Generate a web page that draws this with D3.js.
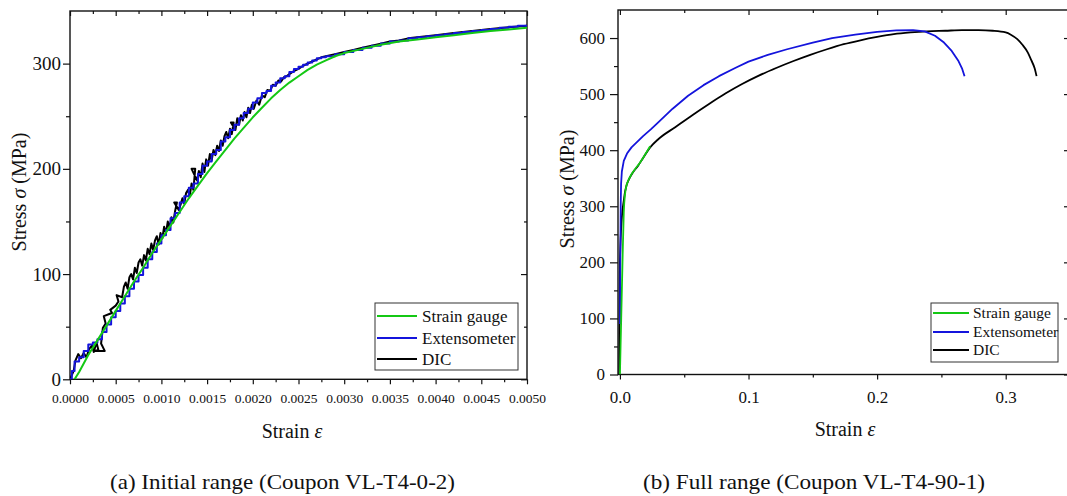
<!DOCTYPE html>
<html>
<head>
<meta charset="utf-8">
<script src="https://cdn.jsdelivr.net/npm/d3@7"></script>
<style>
  html, body { margin: 0; padding: 0; background: #fff; }
  svg text { font-family: "Liberation Serif", "Times New Roman", Times, serif; fill: #111; }
</style>
</head>
<body>
<div id="chart"></div>
<script>
// ---- data: panel (a), initial range ----
const gaugeA = [
  [0.00005, 0], [0.0001, 7], [0.0002, 23], [0.0003, 37], [0.0004, 51], [0.0005, 65],
  [0.0006, 79], [0.0007, 93], [0.0008, 106], [0.0009, 120], [0.0010, 133], [0.0011, 146],
  [0.0012, 159], [0.0013, 172], [0.0014, 184], [0.0015, 196], [0.0016, 207], [0.0017, 218],
  [0.0018, 229], [0.0019, 239], [0.0020, 249], [0.0021, 258], [0.0022, 267], [0.0023, 275],
  [0.0024, 282], [0.0025, 288], [0.0026, 294], [0.0027, 299], [0.0028, 303], [0.0029, 307],
  [0.0030, 310], [0.0032, 314], [0.0034, 318], [0.0036, 321], [0.0038, 323], [0.0040, 325],
  [0.0042, 327], [0.0044, 329], [0.0046, 331], [0.0048, 332.5], [0.0050, 334]
];
const extA = [
  [0.00000, 0], [0.00002, 8], [0.00005, 17], [0.00010, 21], [0.00015, 27], [0.00020, 33],
  [0.00025, 35], [0.00030, 38], [0.00035, 45], [0.00040, 52], [0.00045, 59], [0.00050, 65],
  [0.00055, 72], [0.00060, 79], [0.00065, 86], [0.00070, 93], [0.00075, 99], [0.00080, 106],
  [0.00085, 114], [0.00090, 121], [0.00095, 129], [0.00100, 137], [0.00105, 142], [0.00110, 153],
  [0.00115, 158], [0.00120, 168], [0.00125, 174], [0.00130, 182], [0.00135, 186], [0.00140, 195],
  [0.00145, 203], [0.00150, 207], [0.00155, 214], [0.00160, 218], [0.00165, 226], [0.00170, 230],
  [0.00175, 237], [0.00180, 242], [0.00185, 248], [0.00190, 253], [0.00195, 257], [0.00200, 263],
  [0.00205, 267], [0.00210, 272], [0.00215, 274], [0.00220, 279], [0.00225, 282], [0.00230, 286],
  [0.00235, 288], [0.00240, 292], [0.00245, 295], [0.00250, 297], [0.00255, 299], [0.00260, 301],
  [0.00265, 303], [0.00270, 305], [0.00275, 306], [0.00280, 307], [0.00290, 309], [0.00300, 311],
  [0.00310, 313], [0.00320, 315], [0.00330, 317], [0.00340, 319], [0.00350, 321], [0.00360, 322],
  [0.00370, 324], [0.00380, 325], [0.00390, 326], [0.00400, 327], [0.00410, 328], [0.00420, 329],
  [0.00430, 330], [0.00440, 331], [0.00450, 332], [0.00460, 333], [0.00470, 334], [0.00480, 335],
  [0.00490, 336], [0.00500, 337]
];
const dicA = [
  [0.00000, 0], [0.00004, 8], [0.00006, 18], [0.00009, 24], [0.00012, 20], [0.00015, 25],
  [0.00018, 21], [0.00021, 29], [0.00024, 32], [0.00026, 26], [0.00029, 35], [0.00031, 28],
  [0.00027, 27], [0.00038, 27], [0.00034, 34], [0.00036, 49], [0.00039, 53], [0.00037, 60],
  [0.00043, 62], [0.00046, 63], [0.00044, 66], [0.00050, 70], [0.00053, 74], [0.00051, 80],
  [0.00057, 78], [0.00059, 88], [0.00061, 92], [0.00063, 86], [0.00065, 97], [0.00067, 100],
  [0.00069, 95], [0.00071, 106], [0.00073, 101], [0.00075, 111], [0.00077, 114], [0.00079, 108],
  [0.00081, 118], [0.00083, 113], [0.00085, 124], [0.00087, 119], [0.00089, 129], [0.00091, 123],
  [0.00093, 132], [0.00095, 136], [0.00097, 128], [0.00099, 139], [0.00101, 134], [0.00103, 145],
  [0.00105, 139], [0.00107, 150], [0.00109, 144], [0.00111, 154], [0.00113, 149], [0.00115, 160],
  [0.00117, 168], [0.00114, 168], [0.00119, 161], [0.00121, 166], [0.00123, 172], [0.00125, 167],
  [0.00127, 177], [0.00129, 180], [0.00131, 174], [0.00133, 186], [0.00135, 180], [0.00137, 200],
  [0.00133, 200], [0.00139, 189], [0.00141, 198], [0.00143, 192], [0.00145, 205], [0.00147, 197],
  [0.00149, 209], [0.00151, 203], [0.00153, 214], [0.00155, 208], [0.00157, 218], [0.00159, 213],
  [0.00161, 222], [0.00163, 217], [0.00165, 227], [0.00167, 222], [0.00169, 231], [0.00171, 235],
  [0.00173, 229], [0.00175, 238], [0.00177, 233], [0.00179, 244], [0.00176, 244], [0.00181, 237],
  [0.00183, 248], [0.00185, 242], [0.00187, 251], [0.00189, 246], [0.00191, 254], [0.00193, 249],
  [0.00195, 258], [0.00197, 253], [0.00199, 261], [0.00201, 257], [0.00204, 265], [0.00207, 261],
  [0.00210, 270], [0.00213, 268], [0.00216, 275], [0.00219, 274], [0.00222, 280], [0.00225, 279],
  [0.00228, 284], [0.00231, 283], [0.00234, 287], [0.00237, 288], [0.00240, 290], [0.00245, 293],
  [0.00250, 295], [0.00255, 298], [0.00260, 300], [0.00265, 302], [0.00270, 304], [0.00275, 306],
  [0.00280, 307], [0.00290, 309], [0.00300, 311], [0.00310, 313], [0.00320, 315], [0.00330, 317],
  [0.00340, 319], [0.00350, 321], [0.00360, 322], [0.00370, 324], [0.00380, 325], [0.00390, 326],
  [0.00400, 327], [0.00420, 329], [0.00440, 331], [0.00460, 333], [0.00480, 334.5], [0.00500, 336]
];

// ---- data: panel (b), full range ----
const gaugeB = [
  [0.000, 0], [0.001, 100], [0.002, 200], [0.003, 290], [0.004, 322], [0.005, 336],
  [0.0065, 346], [0.009, 357], [0.012, 367], [0.015, 376], [0.019, 390], [0.0235, 407]
];
const extB = [
  [0.0000, 90], [0.0003, 200], [0.0006, 300], [0.0009, 340], [0.0015, 362], [0.0030, 381],
  [0.0055, 394], [0.0090, 405], [0.0130, 414], [0.0180, 425], [0.0240, 437], [0.0300, 450],
  [0.041, 474], [0.053, 497], [0.065, 516], [0.077, 532], [0.090, 547], [0.100, 558],
  [0.115, 570], [0.130, 580], [0.150, 592], [0.165, 600], [0.183, 606], [0.200, 611],
  [0.215, 613.5], [0.228, 614], [0.237, 612], [0.245, 604], [0.252, 592], [0.258, 577],
  [0.263, 560], [0.266, 546], [0.268, 532]
];
const dicB = [
  [-0.0005, 0], [-0.0003, 100], [0.0000, 200], [0.0015, 280], [0.003, 310], [0.004, 326],
  [0.005, 336], [0.007, 348], [0.010, 360], [0.014, 372], [0.018, 386], [0.0235, 405],
  [0.030, 420], [0.043, 441], [0.056, 462], [0.069, 482], [0.082, 501], [0.095, 518],
  [0.108, 533], [0.122, 547], [0.135, 559], [0.148, 570], [0.161, 580], [0.174, 589],
  [0.187, 596], [0.200, 602], [0.213, 607], [0.226, 610], [0.239, 612], [0.253, 613],
  [0.266, 614], [0.279, 614], [0.290, 613], [0.300, 610], [0.304, 606], [0.309, 598],
  [0.313, 588], [0.317, 575], [0.320, 560], [0.3225, 546], [0.324, 532]
];

// ---- ticks and labels ----
const xTicksA = [0, 0.0005, 0.001, 0.0015, 0.002, 0.0025, 0.003, 0.0035, 0.004, 0.0045, 0.005];
const xMinorA = [0.00025, 0.00075, 0.00125, 0.00175, 0.00225, 0.00275, 0.00325, 0.00375, 0.00425, 0.00475];
const yTicksA = [0, 100, 200, 300];
const yMinorA = [50, 150, 250];
const xTicksB = [0, 0.1, 0.2, 0.3];
const xMinorB = [0.05, 0.15, 0.25];
const yTicksB = [0, 100, 200, 300, 400, 500, 600];
const yMinorB = [50, 150, 250, 350, 450, 550];

const seriesNames = ['Strain gauge', 'Extensometer', 'DIC'];
const seriesColors = ['#14c814', '#1414dc', '#000000'];
const captions = ['(a) Initial range (Coupon VL-T4-0-2)', '(b) Full range (Coupon VL-T4-90-1)'];

const svg = d3.select('#chart').append('svg')
  .attr('width', 1067)
  .attr('height', 496);

function drawPanel(p) {
  const x = d3.scaleLinear().domain(p.xDomain).range([p.left, p.right]);
  const y = d3.scaleLinear().domain(p.yDomain).range([p.bottom, p.top]);
  const g = svg.append('g').attr('class', p.id);

  g.append('clipPath').attr('id', `clip-${p.id}`)
    .append('rect')
    .attr('x', p.left).attr('y', p.top)
    .attr('width', p.right - p.left).attr('height', p.bottom - p.top);

  // bottom axis, outward ticks + labels
  g.append('g')
    .attr('transform', `translate(0,${p.bottom})`)
    .call(d3.axisBottom(x).tickValues(p.xTicks).tickSize(5).tickSizeOuter(0)
      .tickPadding(p.xPad).tickFormat(d3.format(p.xFmt)))
    .call(s => s.selectAll('text').style('font-size', p.xFont));
  g.append('g')
    .attr('transform', `translate(0,${p.bottom})`)
    .call(d3.axisBottom(x).tickValues(p.xMinor).tickSize(3).tickSizeOuter(0).tickFormat(''));

  // top axis, inward ticks
  g.append('g')
    .attr('transform', `translate(0,${p.top})`)
    .call(d3.axisBottom(x).tickValues(p.xTicks).tickSize(5).tickSizeOuter(0).tickFormat(''));
  g.append('g')
    .attr('transform', `translate(0,${p.top})`)
    .call(d3.axisBottom(x).tickValues(p.xMinor).tickSize(3).tickSizeOuter(0).tickFormat(''));

  // left axis
  g.append('g')
    .attr('transform', `translate(${p.left},0)`)
    .call(d3.axisLeft(y).tickValues(p.yTicks).tickSize(p.yTick).tickSizeOuter(0)
      .tickPadding(p.yPad))
    .call(s => s.selectAll('text').style('font-size', p.yFont));
  g.append('g')
    .attr('transform', `translate(${p.left},0)`)
    .call(d3.axisLeft(y).tickValues(p.yMinor).tickSize(4).tickSizeOuter(0).tickFormat(''));

  // right axis, inward
  g.append('g')
    .attr('transform', `translate(${p.right},0)`)
    .call(d3.axisLeft(y).tickValues(p.yTicks).tickSize(6).tickSizeOuter(0).tickFormat(''));
  g.append('g')
    .attr('transform', `translate(${p.right},0)`)
    .call(d3.axisLeft(y).tickValues(p.yMinor).tickSize(3).tickSizeOuter(0).tickFormat(''));

  g.selectAll('.domain').remove();
  g.selectAll('.tick line').attr('stroke', '#111').attr('stroke-width', 1.2);
  g.selectAll('g').attr('font-family', null);

  // frame
  g.append('rect')
    .attr('x', p.left).attr('y', p.top)
    .attr('width', p.right - p.left).attr('height', p.bottom - p.top)
    .attr('fill', 'none').attr('stroke', '#111').attr('stroke-width', 1.4);

  // curves: DIC, extensometer, strain gauge on top
  const plot = g.append('g').attr('clip-path', `url(#clip-${p.id})`);
  [2, 1, 0].forEach(i => {
    const line = d3.line()
      .x(d => x(d[0]))
      .y(d => y(d[1]))
      .curve(p.curves[i]);
    plot.append('path')
      .datum(p.series[i])
      .attr('d', line)
      .attr('fill', 'none')
      .attr('stroke', seriesColors[i])
      .attr('stroke-width', p.lineW)
      .attr('stroke-linejoin', 'round');
  });

  // axis titles
  const xt = g.append('text')
    .attr('x', p.xTitleX).attr('y', p.xTitleY)
    .attr('text-anchor', 'middle')
    .style('font-size', '20px');
  xt.append('tspan').text('Strain ');
  xt.append('tspan').style('font-style', 'italic').text('ε');

  const yt = g.append('text')
    .attr('transform', `translate(${p.yTitleX},${p.yTitleY}) rotate(-90)`)
    .attr('text-anchor', 'middle')
    .style('font-size', '20px');
  yt.append('tspan').text('Stress ');
  yt.append('tspan').style('font-style', 'italic').text('σ');
  yt.append('tspan').text(' (MPa)');

  // legend
  const lg = p.legend;
  g.append('rect')
    .attr('x', lg.x).attr('y', lg.y).attr('width', lg.w).attr('height', lg.h)
    .attr('fill', '#fff').attr('stroke', '#333').attr('stroke-width', 1);
  seriesNames.forEach((name, i) => {
    const ry = lg.rows[i];
    g.append('line')
      .attr('x1', lg.x1).attr('x2', lg.x2).attr('y1', ry).attr('y2', ry)
      .attr('stroke', seriesColors[i]).attr('stroke-width', 2);
    g.append('text')
      .attr('x', lg.tx).attr('y', ry).attr('dy', '0.33em')
      .style('font-size', lg.font)
      .text(name);
  });

  // caption
  svg.append('text')
    .attr('x', p.capX).attr('y', 489)
    .attr('textLength', p.capW).attr('lengthAdjust', 'spacingAndGlyphs')
    .style('font-size', '22px')
    .text(p.caption);
}

drawPanel({
  id: 'a',
  xDomain: [0, 0.005], yDomain: [0, 350],
  left: 70, right: 527, top: 11, bottom: 379.3,
  xTicks: xTicksA, xMinor: xMinorA, yTicks: yTicksA, yMinor: yMinorA,
  xFmt: '.4f', xFont: '13.5px', xPad: 9,
  yFont: '19px', yTick: 7, yPad: 2,
  series: [gaugeA, extA, dicA],
  curves: [d3.curveLinear, d3.curveStepAfter, d3.curveLinear],
  lineW: 2,
  xTitleX: 292, xTitleY: 438,
  yTitleX: 26, yTitleY: 192,
  legend: { x: 375, y: 303, w: 143, h: 67, rows: [316, 338, 359], x1: 377, x2: 417, tx: 422, font: '17px' },
  caption: captions[0], capX: 110, capW: 345
});

drawPanel({
  id: 'b',
  xDomain: [-0.0015, 0.35], yDomain: [0, 650],
  left: 618, right: 1070, top: 10, bottom: 374.5,
  xTicks: xTicksB, xMinor: xMinorB, yTicks: yTicksB, yMinor: yMinorB,
  xFmt: '.1f', xFont: '17px', xPad: 11,
  yFont: '17px', yTick: 8, yPad: 5,
  series: [gaugeB, extB, dicB],
  curves: [d3.curveMonotoneX, d3.curveLinear, d3.curveMonotoneX],
  lineW: 1.8,
  xTitleX: 845, xTitleY: 436,
  yTitleX: 574, yTitleY: 189,
  legend: { x: 931, y: 303, w: 127, h: 59, rows: [313, 332, 350], x1: 933, x2: 969, tx: 973, font: '15.5px' },
  caption: captions[1], capX: 643, capW: 342
});
</script>
</body>
</html>
